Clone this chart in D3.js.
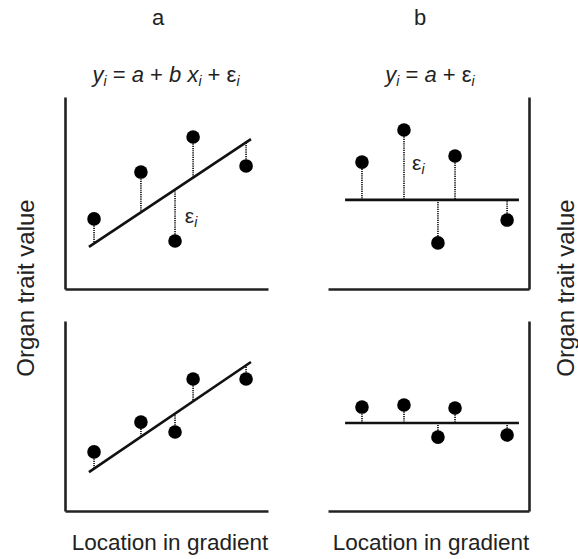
<!DOCTYPE html>
<html>
<head>
<meta charset="utf-8">
<script src="https://cdn.jsdelivr.net/npm/d3@7"></script>
<style>
  html, body { margin: 0; padding: 0; background: #fff; }
  svg { display: block; }
  text { font-family: "Liberation Sans", Arial, sans-serif; fill: #222; }
</style>
</head>
<body>
<svg id="chart" width="578" height="559"></svg>
<script>
// Location along the gradient for the five sampled points (per column)
const locationsA = [1.43, 3.74, 5.42, 6.31, 8.92];
const locationsB = [1.69, 3.78, 5.47, 6.32, 8.91];

// Organ trait values
const traitTopA = [3.65, 6.09, 2.50, 7.92, 6.41];
const traitBottomA = [3.11, 4.68, 4.16, 6.95, 6.95];
const traitTopB = [6.61, 8.28, 2.40, 6.93, 3.59];
const traitBottomB = [5.47, 5.58, 3.89, 5.42, 4.00];

// Fitted models: intercept a and slope b
const fitTopA = { a: 1.36, b: 0.704 };
const fitBottomA = { a: 1.19, b: 0.726 };
const fitTopB = { a: 4.64, b: 0 };
const fitBottomB = { a: 4.63, b: 0 };

// Extent of each fitted line along x
const lineSpanA = [1.18, 9.16];
const lineSpanB = [0.85, 9.5];

const columnTitles = ["a", "b"];
const xLabel = "Location in gradient";
const yLabel = "Organ trait value";

const svg = d3.select("#chart");

const columns = [
  { x: d3.scaleLinear().domain([0, 10]).range([65, 268]), axisSide: "left", span: lineSpanA, xs: locationsA },
  { x: d3.scaleLinear().domain([0, 10]).range([328, 529]), axisSide: "right", span: lineSpanB, xs: locationsB }
];
const rows = [
  d3.scaleLinear().domain([0, 10]).range([289, 97]),
  d3.scaleLinear().domain([0, 10]).range([511, 321])
];

const panels = [
  { col: 0, row: 0, ys: traitTopA, fit: fitTopA, eps: [5.9, 3.44] },
  { col: 0, row: 1, ys: traitBottomA, fit: fitBottomA },
  { col: 1, row: 0, ys: traitTopB, fit: fitTopB, eps: [4.18, 6.2] },
  { col: 1, row: 1, ys: traitBottomB, fit: fitBottomB }
];

panels.forEach(p => {
  const c = columns[p.col];
  const x = c.x, y = rows[p.row];
  const g = svg.append("g");

  // axes (plain lines, no ticks)
  const xAxis = d3.axisBottom(x).tickValues([]).tickSizeOuter(0);
  g.append("g").attr("transform", `translate(0,${y(0)})`).call(xAxis)
    .call(s => s.select(".domain").attr("stroke", "#222").attr("stroke-width", 2.6));
  const yAxis = (c.axisSide === "left" ? d3.axisLeft(y) : d3.axisRight(y)).tickValues([]).tickSizeOuter(0);
  g.append("g").attr("transform", `translate(${c.axisSide === "left" ? x.range()[0] : x.range()[1]},0)`).call(yAxis)
    .call(s => s.select(".domain").attr("stroke", "#222").attr("stroke-width", 2.6));

  const fitted = v => p.fit.a + p.fit.b * v;
  const pts = c.xs.map((xv, i) => ({ x: xv, y: p.ys[i] }));

  // residuals
  g.selectAll("line.res").data(pts).join("line")
    .attr("class", "res")
    .attr("x1", d => x(d.x)).attr("x2", d => x(d.x))
    .attr("y1", d => y(d.y)).attr("y2", d => y(fitted(d.x)))
    .attr("stroke", "#222").attr("stroke-width", 1.8)
    .attr("stroke-dasharray", "1.2,1");

  // fitted line
  g.append("line")
    .attr("x1", x(c.span[0])).attr("y1", y(fitted(c.span[0])))
    .attr("x2", x(c.span[1])).attr("y2", y(fitted(c.span[1])))
    .attr("stroke", "#111").attr("stroke-width", 2.6);

  // observations
  g.selectAll("circle").data(pts).join("circle")
    .attr("cx", d => x(d.x)).attr("cy", d => y(d.y))
    .attr("r", 6.8).attr("fill", "#000");

  // residual label
  if (p.eps) {
    const t = g.append("text")
      .attr("x", x(p.eps[0])).attr("y", y(p.eps[1]))
      .attr("font-size", 21);
    t.append("tspan").text("ε");
    t.append("tspan").attr("font-size", 14).attr("font-style", "italic").attr("dy", 4).text("i");
  }
});

// column titles
svg.selectAll("text.title").data(columnTitles).join("text")
  .attr("class", "title")
  .attr("x", (d, i) => [158, 420][i]).attr("y", 25)
  .attr("text-anchor", "middle").attr("font-size", 22)
  .text(d => d);

// model equations
function equation(cx, parts) {
  const t = svg.append("text").attr("x", cx).attr("y", 82)
    .attr("text-anchor", "middle").attr("font-size", 22);
  let prevSub = false;
  parts.forEach(([s, style]) => {
    if (style === "sub") {
      t.append("tspan").attr("font-size", 14).attr("font-style", "italic").attr("dy", 4).text(s);
    } else {
      const ts = t.append("tspan").text(s);
      if (style === "it") ts.attr("font-style", "italic");
      if (prevSub) ts.attr("dy", -4);
    }
    prevSub = style === "sub";
  });
}
equation(166, [["y", "it"], ["i", "sub"], [" = ", ""], ["a", "it"], [" + ", ""], ["b", "it"], [" ", ""], ["x", "it"], ["i", "sub"], [" + ", ""], ["ε", ""], ["i", "sub"]]);
equation(430, [["y", "it"], ["i", "sub"], [" = ", ""], ["a", "it"], [" + ", ""], ["ε", ""], ["i", "sub"]]);

// axis titles
[170, 431].forEach(cx => {
  svg.append("text").attr("x", cx).attr("y", 550)
    .attr("text-anchor", "middle").attr("font-size", 22.5).text(xLabel);
});
[25, 565].forEach(cx => {
  svg.append("text").attr("transform", `translate(${cx},288) rotate(-90)`)
    .attr("text-anchor", "middle").attr("dominant-baseline", "central")
    .attr("font-size", 24).text(yLabel);
});
</script>
</body>
</html>
